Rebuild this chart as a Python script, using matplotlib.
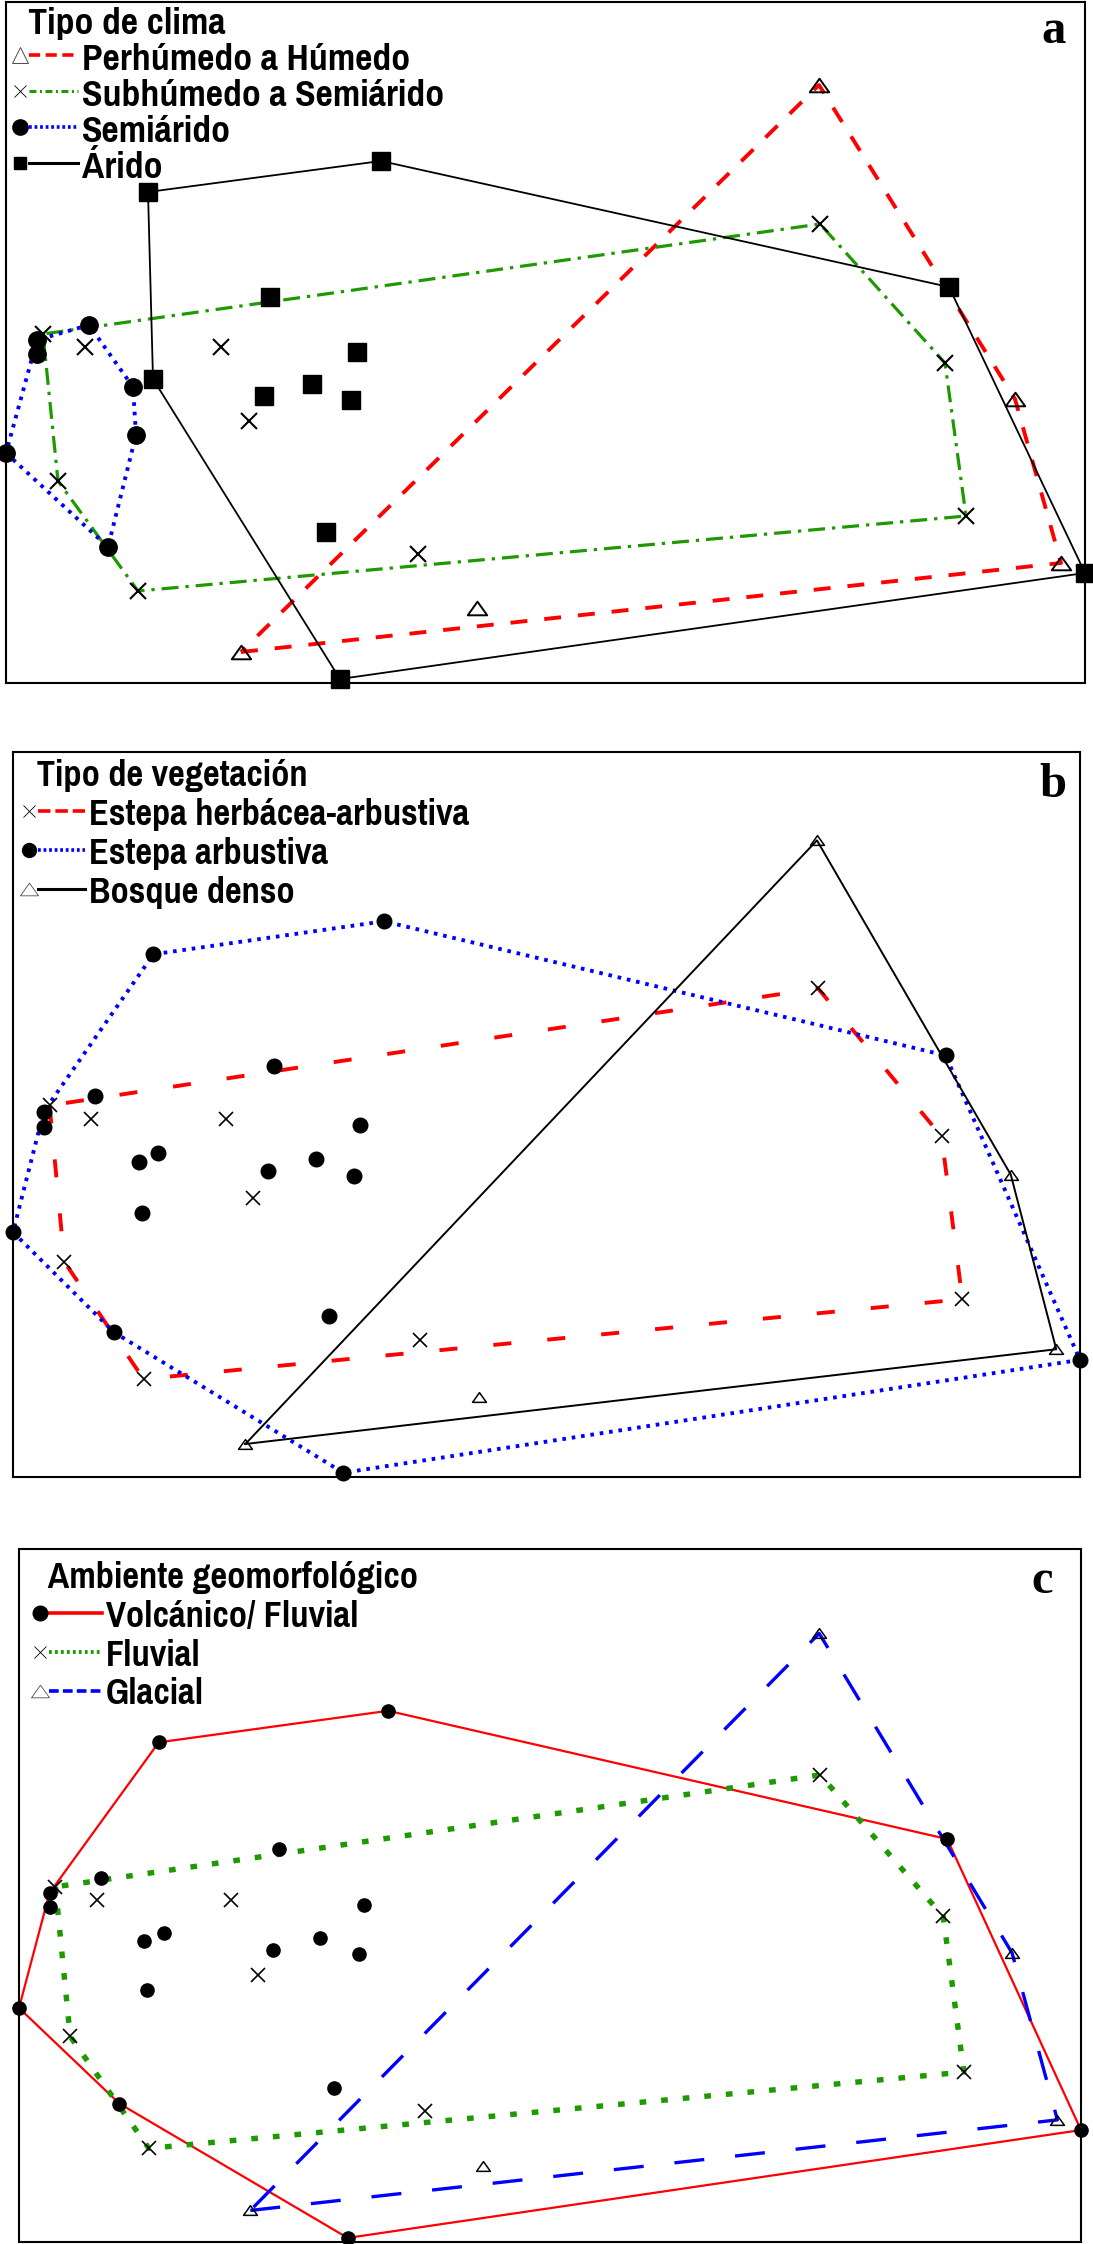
"""
Ordenación de muestras: envolventes por tipo de clima (a), vegetación (b) y ambiente geomorfológico (c)
"""

import matplotlib
matplotlib.use("Agg")
import matplotlib.pyplot as plt
from matplotlib.lines import Line2D
from matplotlib.path import Path
from matplotlib.legend_handler import HandlerBase

plt.rcParams["lines.scale_dashes"] = False
FUENTE = ["Liberation Sans Narrow", "Pragati Narrow", "Roboto Condensed",
          "Archivo Narrow", "PT Sans Narrow", "Liberation Sans"]

# puntuaciones de las muestras sobre los dos ejes (unidades arbitrarias)
# g1 = triángulos, g2 = cruces, g3 = círculos (semiárido), g4 = cuadrados (árido)
eje1_g1 = [8.13, 10.09, 10.55, 4.71, 2.35]
eje2_g1 = [5.98, 2.84, 1.20, 0.75, 0.31]
eje1_g2 = [8.14, 9.39, 9.60, 4.12, 1.32, 0.52, 0.37, 0.79, 2.15, 2.43]
eje2_g2 = [4.59, 3.20, 1.67, 1.29, 0.92, 2.02, 3.49, 3.36, 3.36, 2.62]
eje1_g3 = [0.83, 0.31, 0.31, 1.27, 1.30, 0.00, 1.02]
eje2_g3 = [3.58, 3.43, 3.29, 2.96, 2.48, 2.30, 1.36]
eje1_g4 = [3.75, 1.42, 9.43, 10.79, 3.34, 1.47, 2.64, 3.51, 3.06, 2.58, 3.45, 3.20]
eje2_g4 = [5.22, 4.91, 3.96, 1.10, 0.04, 3.04, 3.86, 3.31, 2.99, 2.87, 2.83, 1.51]

lim_eje1 = (0.0, 10.79)
lim_eje2 = (0.0, 6.81)

titulos = ["Tipo de clima", "Tipo de vegetación", "Ambiente geomorfológico"]
letras = ["a", "b", "c"]
clima = ["Perhúmedo a Húmedo", "Subhúmedo a Semiárido", "Semiárido", "Árido"]
vegetacion = ["Estepa herbácea-arbustiva", "Estepa arbustiva", "Bosque denso"]
ambiente = ["Volcánico/ Fluvial", "Fluvial", "Glacial"]

ROJO, VERDE, AZUL, NEGRO = "#ff0000", "#1f9900", "#0000ff", "black"
TRI = Path([(-1, -0.7), (1, -0.7), (0, 0.7), (-1, -0.7)], closed=True)


def envolvente(x, y):
    pts = sorted(set(zip(x, y)))

    def giro(o, a, b):
        return (a[0] - o[0]) * (b[1] - o[1]) - (a[1] - o[1]) * (b[0] - o[0])

    inf, sup = [], []
    for p in pts:
        while len(inf) >= 2 and giro(inf[-2], inf[-1], p) <= 0:
            inf.pop()
        inf.append(p)
    for p in reversed(pts):
        while len(sup) >= 2 and giro(sup[-2], sup[-1], p) <= 0:
            sup.pop()
        sup.append(p)
    casco = inf[:-1] + sup[:-1]
    casco.append(casco[0])
    return [p[0] for p in casco], [p[1] for p in casco]


class MarcaYLinea(HandlerBase):
    """marcador a la izquierda y la línea a su derecha"""

    def __init__(self, mx, x0):
        super().__init__()
        self.mx, self.x0 = mx, x0

    def create_artists(self, legend, orig_handle, xdescent, ydescent,
                       width, height, fontsize, trans):
        y = (height - ydescent) / 2
        linea = Line2D([self.x0 - xdescent, width - xdescent], [y, y])
        linea.update_from(orig_handle)
        linea.set_marker("None")
        marca = Line2D([self.mx - xdescent], [y])
        marca.update_from(orig_handle)
        marca.set_linestyle("None")
        linea.set_transform(trans)
        marca.set_transform(trans)
        return [linea, marca]


g34_x = eje1_g3 + eje1_g4
g34_y = eje2_g3 + eje2_g4

# (x, y, etiqueta, marcador, envolvente, marcador de leyenda, línea de leyenda)
paneles = [
    [
        (eje1_g1, eje2_g1, clima[0],
         dict(marker=TRI, ms=14, mfc="none", mec=NEGRO, mew=1.4),
         dict(color=ROJO, ls=(0, (12.2, 12.2)), lw=2.8),
         dict(marker="^", ms=11, mfc="white", mec="0.3", mew=0.7),
         dict(color=ROJO, ls=(0, (8, 4)), lw=2.6)),
        (eje1_g2, eje2_g2, clima[1],
         dict(marker="x", ms=12, color=NEGRO, mew=1.5),
         dict(color=VERDE, ls=(0, (12.2, 5, 2.4, 5)), lw=2.3),
         dict(marker="x", ms=9, mec=NEGRO, mew=0.6),
         dict(color=VERDE, ls=(0, (5, 2.5, 1.5, 2.5)), lw=2.2)),
        (eje1_g3, eje2_g3, clima[2],
         dict(marker="o", ms=12.5, color=NEGRO),
         dict(color=AZUL, ls=(0, (2.6, 4.2)), lw=2.8),
         dict(marker="o", ms=11, mfc=NEGRO, mec=NEGRO),
         dict(color=AZUL, ls=(0, (2, 2)), lw=2.6)),
        (eje1_g4, eje2_g4, clima[3],
         dict(marker="s", ms=12.5, color=NEGRO),
         dict(color=NEGRO, ls="-", lw=1.3),
         dict(marker="s", ms=9, mfc=NEGRO, mec=NEGRO),
         dict(color=NEGRO, ls="-", lw=2.2)),
    ],
    [
        (eje1_g2, eje2_g2, vegetacion[0],
         dict(marker="x", ms=10, color=NEGRO, mew=1.2),
         dict(color=ROJO, ls=(0, (13, 26)), lw=2.8),
         dict(marker="x", ms=9, mec=NEGRO, mew=0.6),
         dict(color=ROJO, ls=(0, (9, 3.5)), lw=2.6)),
        (g34_x, g34_y, vegetacion[1],
         dict(marker="o", ms=10.5, color=NEGRO),
         dict(color=AZUL, ls=(0, (2.6, 4.2)), lw=2.8),
         dict(marker="o", ms=10, mfc=NEGRO, mec=NEGRO),
         dict(color=AZUL, ls=(0, (2, 2)), lw=2.6)),
        (eje1_g1, eje2_g1, vegetacion[2],
         dict(marker=TRI, ms=10, mfc="none", mec=NEGRO, mew=1.1),
         dict(color=NEGRO, ls="-", lw=1.4),
         dict(marker=TRI, ms=13, mfc="white", mec="0.3", mew=0.6),
         dict(color=NEGRO, ls="-", lw=2.2)),
    ],
    [
        (g34_x, g34_y, ambiente[0],
         dict(marker="o", ms=9.5, color=NEGRO),
         dict(color=ROJO, ls="-", lw=1.6),
         dict(marker="o", ms=10.5, mfc=NEGRO, mec=NEGRO),
         dict(color=ROJO, ls="-", lw=2.6)),
        (eje1_g2, eje2_g2, ambiente[1],
         dict(marker="x", ms=10, color=NEGRO, mew=1.2),
         dict(color=VERDE, ls=(0, (4.8, 10.8)), lw=3.9),
         dict(marker="x", ms=9, mec=NEGRO, mew=0.6),
         dict(color=VERDE, ls=(0, (2, 2.3)), lw=2.8)),
        (eje1_g1, eje2_g1, ambiente[2],
         dict(marker=TRI, ms=10, mfc="none", mec=NEGRO, mew=1.1),
         dict(color=AZUL, ls=(0, (21.6, 22.3)), lw=2.4),
         dict(marker=TRI, ms=13, mfc="white", mec="0.3", mew=0.6),
         dict(color=AZUL, ls=(0, (7, 3)), lw=2.6)),
    ],
]

# cajas de los paneles en píxeles (izq, der, arriba, abajo) y ajustes de leyenda
W, H = 1093, 2244
cajas = [(6, 1085, 2, 683), (13, 1080, 752, 1477), (19, 1081, 1549, 2242)]
tam_leyenda = [29.5, 28.5, 28.5]
separacion = [0.03, 0.13, 0.13]
margen = [0.12, 0.18, 0.3]
largo_asa = [1.63, 1.64, 1.79]
desplaz_letra = [(-19, -41), (-14, -45), (-28, -44)]

fig = plt.figure(figsize=(W / 100, H / 100), dpi=100)

for i, series in enumerate(paneles):
    izq, der, arr, aba = cajas[i]
    ax = fig.add_axes([izq / W, 1 - aba / H, (der - izq) / W, (aba - arr) / H])
    ax.set_xlim(*lim_eje1)
    ax.set_ylim(*lim_eje2)
    ax.set_xticks([])
    ax.set_yticks([])
    for s in ax.spines.values():
        s.set_linewidth(1.5)
        s.set_color("black")

    asas, nombres = [], []
    for x, y, nombre, marca, linea, marca_ley, linea_ley in series:
        hx, hy = envolvente(x, y)
        ax.plot(hx, hy, clip_on=False, zorder=2, **linea)
        ax.plot(x, y, ls="none", clip_on=False, zorder=3, **marca)
        asas.append(Line2D([], [], **linea_ley, **marca_ley))
        nombres.append(nombre)

    fs = tam_leyenda[i]
    ley = ax.legend(asas, nombres, loc="upper left", bbox_to_anchor=(0, 1),
                    borderaxespad=0, borderpad=margen[i], frameon=False,
                    handlelength=largo_asa[i], handletextpad=0.1,
                    labelspacing=separacion[i],
                    title="  " + titulos[i], alignment="left",
                    prop=dict(family=FUENTE, weight="bold", size=fs),
                    title_fontproperties=dict(family=FUENTE, weight="bold", size=fs),
                    handler_map={Line2D: MarcaYLinea(mx=6.5, x0=13)})
    ley.set_zorder(5)

    ax.annotate(letras[i], xy=(1, 1), xycoords="axes fraction",
                xytext=desplaz_letra[i], textcoords="offset pixels",
                ha="right", va="baseline", fontsize=35, fontweight="bold",
                family=["Liberation Serif", "DejaVu Serif"])

fig.savefig("out.png", dpi=100)
print("Saved out.png")
